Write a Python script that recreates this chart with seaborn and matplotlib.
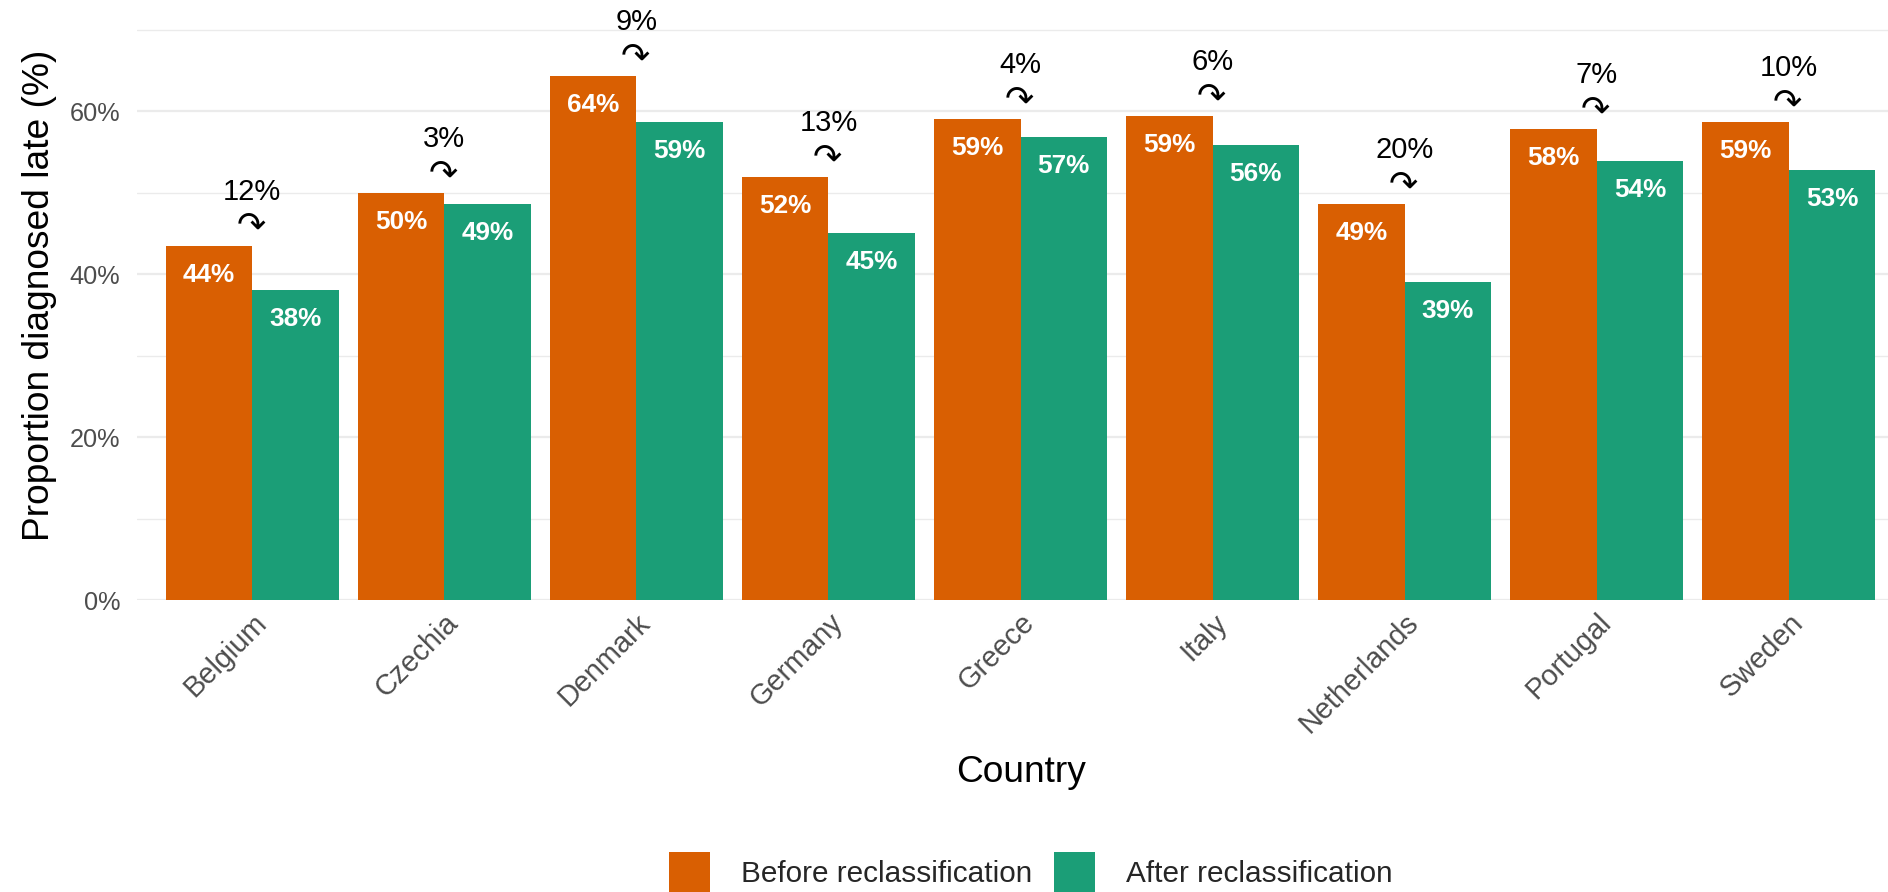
import numpy as np
import pandas as pd
import matplotlib
matplotlib.use("Agg")
import matplotlib.pyplot as plt
import seaborn as sns

countries = ["Belgium", "Czechia", "Denmark", "Germany", "Greece", "Italy",
             "Netherlands", "Portugal", "Sweden"]
before = [43.5, 50.0, 64.3, 51.9, 59.0, 59.4, 48.6, 57.8, 58.7]
after = [38.1, 48.6, 58.7, 45.0, 56.8, 55.9, 39.1, 53.9, 52.8]
before_labels = ["44%", "50%", "64%", "52%", "59%", "59%", "49%", "58%", "59%"]
after_labels = ["38%", "49%", "59%", "45%", "57%", "56%", "39%", "54%", "53%"]
change_labels = ["12%", "3%", "9%", "13%", "4%", "6%", "20%", "7%", "10%"]
period_names = ["Before reclassification", "After reclassification"]
colors = ["#D95F02", "#1B9E77"]
y_ticks = [0, 20, 40, 60]
y_minor = [10, 30, 50, 70]
y_tick_labels = ["0%", "20%", "40%", "60%"]
x_title = "Country"
y_title = "Proportion diagnosed late (%)"

df = pd.DataFrame({
    "Country": countries * 2,
    "Proportion": before + after,
    "Period": [period_names[0]] * len(countries) + [period_names[1]] * len(countries),
})

sns.set_style("white")
plt.rcParams["font.family"] = ["Liberation Sans", "DejaVu Sans"]

W, H = 1888, 892
fig = plt.figure(figsize=(W / 100, H / 100), dpi=100)
ax = fig.add_axes([137 / W, 1 - 600 / H, 1767 / W, 600 / H])

sns.barplot(data=df, x="Country", y="Proportion", hue="Period",
            hue_order=period_names, palette=colors, width=0.9, gap=0,
            saturation=1, errorbar=None, linewidth=0, ax=ax)

ax.set_xlim(-0.6, 8.6)
ax.set_ylim(0, 73.66)
ax.set_yticks(y_ticks)
ax.set_yticklabels(y_tick_labels)
ax.set_yticks(y_minor, minor=True)
ax.set_axisbelow(True)
ax.grid(axis="y", which="major", color="#EBEBEB", linewidth=1.6)
ax.grid(axis="y", which="minor", color="#EBEBEB", linewidth=1.0)
ax.grid(axis="x", visible=False)
for s in ax.spines.values():
    s.set_visible(False)
ax.tick_params(axis="both", which="both", length=0, colors="#4D4D4D")
ax.tick_params(axis="y", pad=12, labelsize=18.2)
ax.tick_params(axis="x", pad=6, labelsize=20.8)
for lab in ax.get_xticklabels():
    lab.set_rotation(45)
    lab.set_ha("right")
    lab.set_va("top")
    lab.set_rotation_mode("anchor")

ax.set_xlabel(x_title, fontsize=26.7, color="black")
ax.set_ylabel(y_title, fontsize=26.7, color="black")
ax.xaxis.set_label_coords(0.5003, -0.288)
ax.xaxis.label.set_va("center")
ax.yaxis.set_label_coords(-0.0453, 0.508)

for cont, labs in zip(ax.containers, [before_labels, after_labels]):
    for bar, lab in zip(cont, labs):
        ax.annotate(lab, (bar.get_x() + bar.get_width() / 2, bar.get_height()),
                    xytext=(0, -20.9), textcoords="offset points",
                    ha="center", va="center", color="white",
                    fontweight="bold", fontsize=18.8)

for bar, lab in zip(ax.containers[0], change_labels):
    gx = bar.get_x() + bar.get_width()
    top = bar.get_height()
    ax.annotate("\u21B7", (gx, top), xytext=(-1, 14), textcoords="offset points",
                ha="center", va="center", color="black", fontsize=25,
                family=["DejaVu Sans"], annotation_clip=False)
    ax.annotate(lab, (gx, top), xytext=(0, 39), textcoords="offset points",
                ha="center", va="center", color="black", fontsize=21,
                annotation_clip=False)

handles, labels = ax.get_legend_handles_labels()
if ax.get_legend() is not None:
    ax.get_legend().remove()
fig.legend(handles, labels, loc="center", bbox_to_anchor=(0.546, 0.0219),
           ncol=2, frameon=False, fontsize=21.4, handlelength=1.38,
           handleheight=1.75, handletextpad=1.04, columnspacing=0.74,
           borderpad=0, borderaxespad=0)

fig.savefig("out.png", dpi=100)
